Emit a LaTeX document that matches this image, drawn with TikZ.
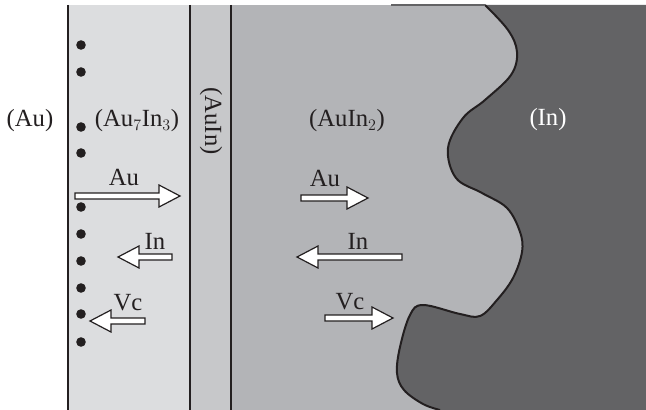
\documentclass[tikz,border=0pt]{standalone}
\usepackage{fontspec}
\setmainfont{Liberation Serif}
\newcommand{\lblfont}{\fontsize{18.5pt}{22pt}\selectfont}
\begin{document}
\begin{tikzpicture}[x=0.75pt,y=-0.75pt,
  lbl/.style={font=\lblfont, text=ink, inner sep=0pt},
  wall/.style={draw=ink, line width=1.6pt},
  boundary/.style={draw=ink, line width=1.5pt},
  hollow/.style={draw=ink, fill=white, line width=0.9pt, line join=miter},
  dot/.style={fill=ink, draw=none}]
\definecolor{ink}{HTML}{231F20}
\definecolor{grayA}{HTML}{DCDDDF}
\definecolor{grayB}{HTML}{C7C8CA}
\definecolor{grayC}{HTML}{B3B4B7}
\definecolor{grayD}{HTML}{636365}
\useasboundingbox (0,0) rectangle (646,410);
% regions
\fill[grayA] (68,5) rectangle (190,410);
\fill[grayB] (190,5) rectangle (231,410);
\fill[grayC] (231,5) rectangle (646,410);
\fill[grayD] (485,5) plot[smooth, tension=0.6] coordinates {(485,5) (508,30) (517,52) (511,75) (485,100) (463,118) (448,148) (456,178) (482,193) (507,208) (520,232) (522,252) (513,278) (497,300) (480,316) (460,314) (423,305) (410,315) (400,347) (397,373) (404,390) (423,404) (440,410)} -- (646,410) -- (646,5) -- cycle;
\draw[boundary] plot[smooth, tension=0.6] coordinates {(485,5) (508,30) (517,52) (511,75) (485,100) (463,118) (448,148) (456,178) (482,193) (507,208) (520,232) (522,252) (513,278) (497,300) (480,316) (460,314) (423,305) (410,315) (400,347) (397,373) (404,390) (423,404) (440,410)};
\draw[grayD, line width=0.8pt] (391,5) -- (485,5);
% walls
\draw[wall] (68,5) -- (68,410);
\draw[wall] (190,5) -- (190,410);
\draw[wall] (231,5) -- (231,410);
% vacancy dots
\foreach \y in {45,72,127,153,207,234,261,288,314,342}
  \fill[dot] (81,\y) circle[radius=3.6pt];
% labels
\node[lbl] (au) at (30,121) {(Au)};
\node[lbl] (au7in3) at (137,121) {(Au$_7$In$_3$)};
\node[lbl, rotate=-90] (auin) at (211,121) {(AuIn)};
\node[lbl] (auin2) at (347,121) {(AuIn$_2$)};
\node[lbl, text=white] (in) at (548,120) {(In)};
% arrows (tail x, tip x, y)
\newcommand{\hollowarrow}[3]{%
  \pgfmathsetmacro{\hd}{(#2>#1) ? -21 : 21}%
  \draw[hollow] (#1,#3-3) -- (#2+\hd,#3-3) -- (#2+\hd,#3-11) -- (#2,#3) -- (#2+\hd,#3+11) -- (#2+\hd,#3+3) -- (#1,#3+3) -- cycle;}
\hollowarrow{75}{180}{196}
\node[lbl] (la1) at (124,177) {Au};
\hollowarrow{172}{118}{257}
\node[lbl] (li1) at (155,241) {In};
\hollowarrow{145}{90}{321}
\node[lbl] (lv1) at (128,303) {Vc};
\hollowarrow{301}{368}{198}
\node[lbl] (la2) at (325,178) {Au};
\hollowarrow{402}{297}{257}
\node[lbl] (li2) at (358,241) {In};
\hollowarrow{325}{393}{318}
\node[lbl] (lv2) at (350,302) {Vc};
\end{tikzpicture}
\end{document}
